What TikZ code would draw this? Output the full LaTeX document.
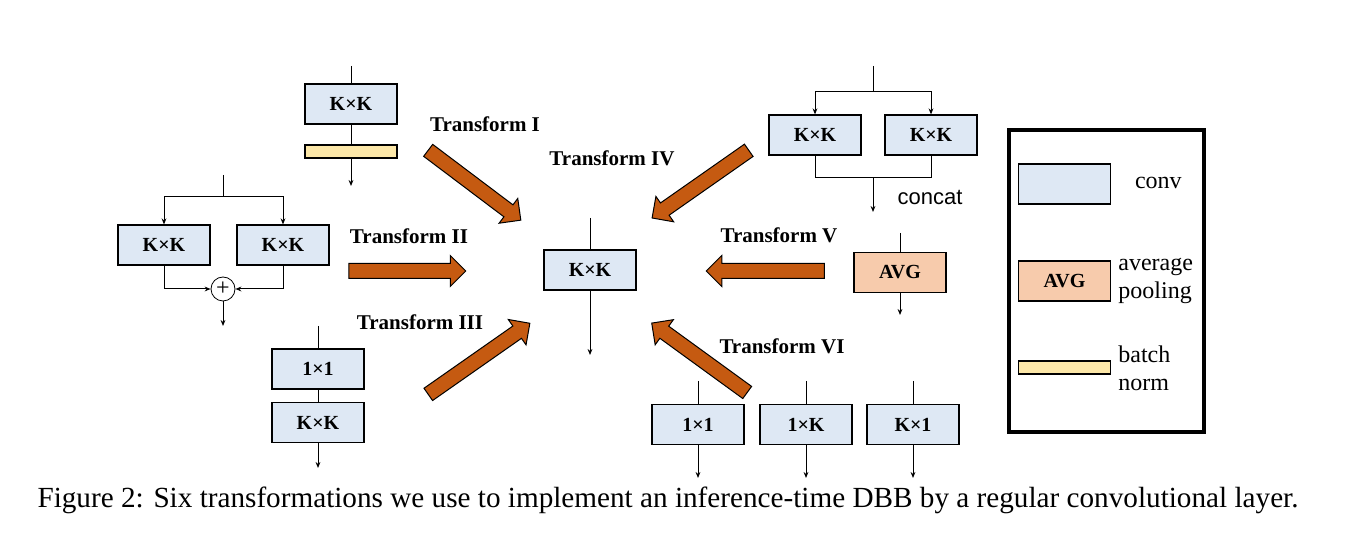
\documentclass[tikz,border=0pt]{standalone}
\usepackage{fontspec}
\setmainfont{Liberation Serif}
\newfontfamily\arialf{Liberation Sans}
\usetikzlibrary{shapes.arrows,arrows.meta}
\definecolor{convc}{HTML}{DEE8F4}
\definecolor{avgc}{HTML}{F7CBAC}
\definecolor{bnc}{HTML}{FCE7A8}
\definecolor{orc}{HTML}{C55A11}
\begin{document}
\begin{tikzpicture}[x=0.5pt,y=-0.5pt,
  box/.style={draw,line width=0.6pt,fill=convc,minimum width=46pt,minimum height=20pt,inner sep=0pt,font=\fontsize{10}{10}\selectfont\bfseries},
  avg/.style={box,fill=avgc},
  bn/.style={draw,line width=0.6pt,fill=bnc,minimum width=46pt,minimum height=6.5pt,inner sep=0pt},
  ln/.style={line width=0.5pt},
  ar/.style={ln,-{Stealth[length=3pt,width=2.4pt]}},
  fat/.style={single arrow,draw=black,line width=0.5pt,fill=orc,inner xsep=0pt,inner ysep=3.5pt,single arrow head extend=4pt,single arrow tip angle=90},
  tl/.style={font=\fontsize{10.5}{11}\selectfont\bfseries},
  lg/.style={font=\fontsize{12}{14}\selectfont,align=left,anchor=west}]
\useasboundingbox (0,0) rectangle (1350,549);
% top-left
\coordinate (a0) at (351,66);
\node[box] (a1) at (351,104) {K×K};
\node[bn] (a2) at (351,151.5) {};
\coordinate (a3) at (351,186);
\draw[ln] (a0)--(a1.north); \draw[ln] (a1.south)--(a2.north); \draw[ar] (a2.south)--(a3);
% left
\coordinate (b0) at (223,175); \coordinate (b1) at (223,197);
\node[box] (bl) at (164,245) {K×K};
\node[box] (br) at (283,245) {K×K};
\node[draw,circle,minimum size=12pt,inner sep=0pt,font=\large] (bp) at (223,289) {+};
\coordinate (b2) at (223,326);
\draw[ln] (b0)--(b1);
\draw[ar] (b1)-|(bl.north); \draw[ar] (b1)-|(br.north);
\draw[ar] (bl.south)|-(bp.west); \draw[ar] (br.south)|-(bp.east);
\draw[ar] (bp.south)--(b2);
% bottom-left
\coordinate (c0) at (318,326);
\node[box] (c1) at (318,369) {1×1};
\node[box] (c2) at (318,422.5) {K×K};
\coordinate (c3) at (318,468);
\draw[ln] (c0)--(c1.north); \draw[ln] (c1.south)--(c2.north); \draw[ar] (c2.south)--(c3);
% center
\coordinate (m0) at (590,218);
\node[box] (m) at (590,270) {K×K};
\coordinate (m1) at (590,355);
\draw[ln] (m0)--(m.north); \draw[ar] (m.south)--(m1);
% top-right
\coordinate (d0) at (873,66); \coordinate (d1) at (873,92);
\node[box] (dl) at (815,135) {K×K};
\node[box] (dr) at (931,135) {K×K};
\coordinate (d2) at (873,178); \coordinate (d3) at (873,212);
\draw[ln] (d0)--(d1);
\draw[ar] (d1)-|(dl.north); \draw[ar] (d1)-|(dr.north);
\draw[ln] (dl.south)|-(d2); \draw[ln] (dr.south)|-(d2);
\draw[ar] (d2)--(d3);
\node[font=\arialf\fontsize{11}{12}\selectfont] (dc) at (930,198) {concat};
% AVG
\coordinate (e0) at (900,233);
\node[avg] (e) at (900,272.5) {AVG};
\coordinate (e1) at (900,315);
\draw[ln] (e0)--(e.north); \draw[ar] (e.south)--(e1);
% bottom-right
\foreach \n/\x/\t in {f1/698/1×1,f2/806/1×K,f3/913/K×1}{
  \coordinate (\n a) at (\x,381);
  \node[box] (\n) at (\x,424.5) {\t};
  \coordinate (\n b) at (\x,478);
  \draw[ln] (\n a)--(\n.north); \draw[ar] (\n.south)--(\n b);
}
% fat arrows
\node[fat,minimum height=58pt,rotate=-37] (t1) at (471.5,183) {};
\node[fat,minimum height=58.5pt] (t2) at (403.5,271) {};
\node[fat,minimum height=62pt,rotate=35] (t3) at (476,361) {};
\node[fat,minimum height=59pt,rotate=-145] (t4) at (703.5,182) {};
\node[fat,minimum height=59pt,rotate=180] (t5) at (769,271) {};
\node[fat,minimum height=59pt,rotate=144] (t6) at (702.5,360) {};
\node[tl] (l1) at (485,124) {Transform I};
\node[tl] (l2) at (409,236) {Transform II};
\node[tl] (l3) at (420,322) {Transform III};
\node[tl] (l4) at (612,158) {Transform IV};
\node[tl] (l5) at (779,235) {Transform V};
\node[tl] (l6) at (782,346) {Transform VI};
% legend
\node[draw,line width=1.6pt,minimum width=97.5pt,minimum height=151pt,inner sep=0pt] (lgd) at (1106.5,281) {};
\node[box] (g1) at (1064.5,184) {};
\node[lg] (g1t) at (1128,183) {conv};
\node[avg] (g2) at (1064.5,281) {AVG};
\node[lg,text width=50pt,inner xsep=0pt] (g2t) at (1118,281) {average\\pooling};
\node[bn] (g3) at (1064.5,367.5) {};
\node[lg,text width=50pt,inner xsep=0pt] (g3t) at (1118,368) {batch\\norm};
% caption
\node[font=\fontsize{14.6}{16}\selectfont] (cap) at (668,500) {Figure 2: Six transformations we use to implement an inference-time DBB by a regular convolutional layer.};
\end{tikzpicture}
\end{document}
